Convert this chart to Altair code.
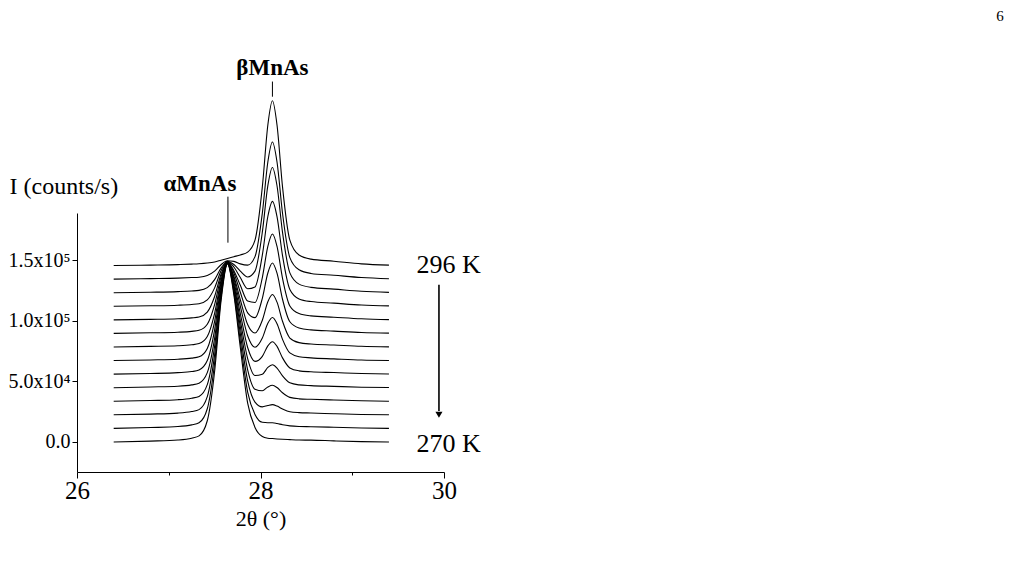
import altair as alt
import pandas as pd

# ---------------- data ----------------
two_theta = [26.40, 26.80, 27.10, 27.25, 27.33, 27.42, 27.50, 27.57, 27.64, 27.71,
             27.78, 27.86, 27.94, 28.02, 28.08, 28.13, 28.18, 28.24, 28.32, 28.42,
             28.55, 28.80, 29.10, 29.40]

temperatures = [270, 272, 274, 276, 278, 280, 282, 284, 286, 288, 290, 292, 294, 296]

# vertical offset of each scan (10^3 counts/s)
offsets = [0.0, 11.2, 22.4, 33.6, 44.8, 56.0, 67.2, 78.4, 89.6, 100.8, 112.0, 123.2, 134.4, 145.6]

# intensity above each scan's baseline (10^3 counts/s)
I270 = [0, 0.7, 1.6, 3.1, 5.0, 17.5, 58.4, 116.4, 147.0, 121.3, 78.0, 32.0, 12.0, 4.5, 3.1, 2.8, 2.5, 2.2, 1.9, 1.6, 1.5, 0.9, 0.3, 0]
I272 = [0, 0.7, 1.5, 2.9, 4.6, 16.2, 54.0, 107.8, 136.1, 112.3, 72.0, 30.0, 11.5, 5.0, 4.6, 4.6, 4.0, 3.0, 2.1, 1.6, 1.4, 0.9, 0.3, 0]
I274 = [0, 0.6, 1.4, 2.7, 4.3, 15.0, 49.7, 99.2, 125.2, 103.4, 67.0, 28.0, 10.5, 6.6, 7.7, 8.4, 7.2, 4.8, 2.5, 1.8, 1.5, 0.9, 0.3, 0]
I276 = [0, 0.6, 1.3, 2.5, 4.0, 13.7, 45.5, 90.6, 114.4, 94.6, 61.5, 26.0, 10.0, 8.7, 11.8, 13.2, 11.3, 7.0, 3.2, 2.0, 1.6, 1.0, 0.4, 0]
I278 = [0, 0.6, 1.2, 2.3, 3.7, 12.4, 40.8, 81.3, 102.6, 85.0, 55.5, 24.0, 10.0, 11.1, 16.7, 18.9, 16.2, 9.7, 4.0, 2.3, 1.7, 1.1, 0.4, 0.1]
I280 = [0, 0.5, 1.2, 2.1, 3.4, 11.2, 36.6, 72.8, 91.9, 76.3, 50.0, 22.0, 10.5, 14.7, 23.3, 26.7, 22.9, 13.4, 5.1, 2.7, 1.9, 1.3, 0.5, 0.1]
I282 = [0, 0.5, 1.1, 2.0, 3.1, 10.0, 32.4, 64.3, 81.3, 67.7, 45.0, 20.5, 11.0, 18.6, 30.7, 35.5, 30.4, 17.5, 6.3, 3.2, 2.2, 1.4, 0.5, 0.1]
I284 = [0, 0.5, 1.0, 1.8, 2.8, 8.7, 27.8, 55.0, 69.6, 58.2, 39.0, 18.5, 11.5, 22.1, 37.3, 43.3, 37.0, 21.2, 7.4, 3.6, 2.4, 1.6, 0.6, 0.1]
I286 = [0, 0.5, 1.0, 1.7, 2.6, 7.6, 23.8, 46.7, 59.1, 49.9, 34.0, 17.0, 13.0, 29.0, 49.9, 58.1, 49.7, 28.2, 9.6, 4.5, 2.9, 1.9, 0.7, 0.2]
I288 = [0, 0.4, 0.9, 1.6, 2.3, 6.4, 19.3, 37.6, 47.6, 40.6, 28.5, 15.5, 14.3, 34.9, 60.7, 70.9, 60.6, 34.3, 11.5, 5.2, 3.3, 2.2, 0.9, 0.2]
I290 = [0, 0.4, 0.9, 1.5, 2.1, 5.3, 15.2, 29.3, 37.2, 32.4, 23.7, 14.5, 16.0, 42.2, 74.1, 86.6, 74.0, 41.8, 13.9, 6.1, 3.9, 2.6, 1.0, 0.3]
I292 = [0, 0.4, 0.9, 1.4, 1.9, 4.2, 10.8, 20.3, 25.8, 23.3, 17.8, 13.0, 17.8, 50.0, 88.4, 103.4, 88.3, 49.8, 16.4, 7.1, 4.4, 3.0, 1.2, 0.3]
I294 = [0, 0.4, 0.8, 1.3, 1.6, 3.0, 6.6, 11.9, 15.2, 14.7, 12.6, 11.6, 18.6, 54.5, 96.7, 113.2, 96.7, 54.4, 17.8, 7.7, 4.7, 3.2, 1.3, 0.3]
I296 = [0, 0.4, 0.8, 1.2, 1.5, 2.1, 3.0, 4.4, 5.8, 7.3, 8.8, 11.1, 21.0, 65.0, 116.0, 136.0, 116.0, 65.0, 21.0, 8.7, 5.3, 3.6, 1.4, 0.4]

scans = [I270, I272, I274, I276, I278, I280, I282, I284, I286, I288, I290, I292, I294, I296]

# annotations
peak_names = ["βMnAs", "αMnAs"]
peak_name_x = [28.13, 27.34]
peak_name_y = [309000, 213000]
peak_pos = [28.13, 27.645]
peak_line_lo = [285000, 164500]
peak_line_hi = [297500, 202500]

temp_labels = ["296 K", "270 K"]
temp_label_x = [29.70, 29.70]
temp_label_y = [146000, -1700]

arrow_x = [29.945]
arrow_top = [129700]
arrow_end = [25500]
arrow_head = [22500]

# ---------------- tables ----------------
rows = []
for T, off, scan in zip(temperatures, offsets, scans):
    for tt, v in zip(two_theta, scan):
        rows.append({"two_theta": tt, "I": (off + v) * 1000.0, "T": T})
df = pd.DataFrame(rows)

peaks_df = pd.DataFrame({"name": peak_names, "nx": peak_name_x, "ny": peak_name_y})
plines_df = pd.DataFrame({"x": peak_pos, "lo": peak_line_lo, "hi": peak_line_hi})
temps_df = pd.DataFrame({"label": temp_labels, "x": temp_label_x, "y": temp_label_y})
arrow_df = pd.DataFrame({"x": arrow_x, "top": arrow_top, "end": arrow_end, "head": arrow_head})
page_df = pd.DataFrame({"t": ["6"]})

FONT = "Liberation Serif"
x_scale = alt.Scale(domain=[26, 30], nice=False, zero=False)
y_scale = alt.Scale(domain=[-24800, 189000], nice=False, zero=False)

x_axis = alt.Axis(
    values=[26, 27, 28, 29, 30],
    labelExpr="datum.value % 2 == 0 ? format(datum.value, 'd') : ''",
    tickSize={"condition": {"test": "datum.value % 2 != 0", "value": 3}, "value": 6},
    grid=False, domainColor="black", tickColor="black", labelColor="black",
    labelFont=FONT, labelFontSize=25, labelPadding=0, labelFlush=False,
    labelOverlap=False,
    title="2θ (°)", titleFont=FONT, titleFontSize=22, titleFontWeight="normal",
    titleColor="black", titleY=46, titleBaseline="middle",
)
y_axis = alt.Axis(
    values=[0, 25000, 50000, 75000, 100000, 125000, 150000, 175000],
    labelExpr="datum.value == 0 ? '0.0' : datum.value == 50000 ? '5.0x10⁴' : "
              "datum.value == 100000 ? '1.0x10⁵' : datum.value == 150000 ? '1.5x10⁵' : ''",
    tickSize={"condition": {"test": "datum.value % 50000 != 0", "value": 3}, "value": 5},
    grid=False, domainColor="black", tickColor="black", labelColor="black",
    labelFont=FONT, labelFontSize=20, labelPadding=2, labelFlush=False,
    labelOverlap=False,
    title="I (counts/s)", titleFont=FONT, titleFontSize=24, titleFontWeight="normal",
    titleColor="black", titleAngle=0, titleX=-68, titleY=-27,
    titleAlign="left", titleBaseline="middle",
)

lines = alt.Chart(df).mark_line(color="black", strokeWidth=1.1, interpolate="monotone").encode(
    x=alt.X("two_theta:Q", scale=x_scale, axis=x_axis),
    y=alt.Y("I:Q", scale=y_scale, axis=y_axis),
    detail="T:N",
)

peak_text = alt.Chart(peaks_df).mark_text(
    font=FONT, fontSize=23, fontWeight="bold", color="black", align="center", baseline="middle"
).encode(
    x=alt.X("nx:Q", scale=x_scale), y=alt.Y("ny:Q", scale=y_scale), text="name:N"
)

peak_lines = alt.Chart(plines_df).mark_rule(color="black", strokeWidth=1).encode(
    x=alt.X("x:Q", scale=x_scale), y=alt.Y("lo:Q", scale=y_scale), y2="hi:Q"
)

temp_text = alt.Chart(temps_df).mark_text(
    font=FONT, fontSize=26, color="black", align="left", baseline="middle"
).encode(
    x=alt.X("x:Q", scale=x_scale), y=alt.Y("y:Q", scale=y_scale), text="label:N"
)

arrow_shaft = alt.Chart(arrow_df).mark_rule(color="black", strokeWidth=1.6).encode(
    x=alt.X("x:Q", scale=x_scale), y=alt.Y("top:Q", scale=y_scale), y2="end:Q"
)
arrow_tip = alt.Chart(arrow_df).mark_point(
    shape="triangle-down", filled=True, color="black", size=50, opacity=1
).encode(
    x=alt.X("x:Q", scale=x_scale), y=alt.Y("head:Q", scale=y_scale)
)

page_no = alt.Chart(page_df).mark_text(
    font=FONT, fontSize=15, color="black", align="center", baseline="top"
).encode(
    x=alt.value(923), y=alt.value(-204), text="t:N"
)

chart = alt.layer(
    lines, peak_lines, peak_text, temp_text, arrow_shaft, arrow_tip, page_no
).properties(
    width=367, height=259,
    padding={"left": 69, "top": 205, "right": 564, "bottom": 90},
    autosize=alt.AutoSizeParams(type="none"),
    background="white",
).configure_view(stroke=None)

chart.save("out.html", embed_options={"renderer": "svg", "actions": False})
